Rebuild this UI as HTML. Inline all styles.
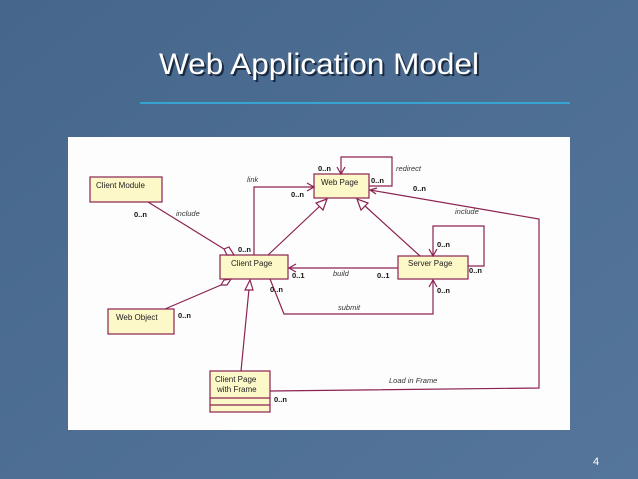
<!DOCTYPE html>
<html><head><meta charset="utf-8"><style>
html,body{margin:0;padding:0;width:638px;height:479px;overflow:hidden;background:#4d6d92}
svg{display:block}
text{font-family:"Liberation Sans",sans-serif}
</style></head><body>
<svg width="638" height="479" viewBox="0 0 638 479" xmlns="http://www.w3.org/2000/svg">
<defs>
<linearGradient id="bg" x1="0" y1="0" x2="1" y2="1">
<stop offset="0" stop-color="#46668c"/><stop offset="1" stop-color="#55769a"/>
</linearGradient>
</defs>
<rect width="638" height="479" fill="url(#bg)"/>
<text x="161" y="76" font-family="DejaVu Sans,sans-serif" font-size="30" fill="#1a2a40" textLength="320" lengthAdjust="spacingAndGlyphs">Web Application Model</text>
<text x="159" y="74" font-family="DejaVu Sans,sans-serif" font-size="30" fill="#ffffff" textLength="320" lengthAdjust="spacingAndGlyphs">Web Application Model</text>
<line x1="140" y1="103" x2="570" y2="103" stroke="#2fb6e8" stroke-width="1.5"/>
<rect x="68" y="137" width="502" height="293" fill="#fdfdfd"/>
<text x="593" y="465" font-size="11" fill="#fff">4</text>

<g fill="#fdf8c8" stroke="#8b2252" stroke-width="1.2">
<rect x="90" y="177" width="72" height="25"/>
<rect x="220" y="255" width="68" height="24"/>
<rect x="314" y="174" width="55" height="24"/>
<rect x="398" y="256" width="70" height="23"/>
<rect x="108" y="309" width="66" height="25"/>
<rect x="210" y="371" width="60" height="41"/>
<line x1="210" y1="398" x2="270" y2="398"/>
<line x1="210" y1="405" x2="270" y2="405"/>
</g>
<g font-size="8" fill="#222">
<text x="96" y="188">Client Module</text>
<text x="231" y="266">Client Page</text>
<text x="321" y="185">Web Page</text>
<text x="408" y="266">Server Page</text>
<text x="116" y="320">Web Object</text>
<text x="215" y="382">Client Page</text>
<text x="217" y="392">with Frame</text>
</g>

<g fill="none" stroke="#8b2252" stroke-width="1.2">
<!-- web page self loop -->
<polyline points="341,174 341,157 392,157 392,186 369,186"/>
<polyline points="337,167 341,174 345,167"/>
<!-- link -->
<polyline points="254,255 254,187 314,187"/>
<polyline points="307,183 314,187 307,191"/>
<!-- generalizations -->
<line x1="268" y1="255" x2="320" y2="206"/>
<polygon points="327,199 316,203 323,210" fill="#fff"/>
<line x1="420" y1="256" x2="365" y2="206"/>
<polygon points="357,199 361,210 368,203" fill="#fff"/>
<line x1="241" y1="371" x2="249" y2="289"/>
<polygon points="250,280 245,290 253,290" fill="#fff"/>
<!-- include client module -->
<line x1="148" y1="202" x2="224" y2="249"/>
<polygon points="224,249 229,247 234,255 227,255" fill="#fff"/>
<!-- web object -->
<line x1="165" y1="309" x2="221" y2="285"/>
<polygon points="221,285 224,280 231,279 227,285" fill="#fff"/>
<!-- build -->
<line x1="398" y1="268" x2="289" y2="268"/>
<polyline points="296,264 289,268 296,272"/>
<!-- submit -->
<polyline points="270,279 284,314 433,314 433,280"/>
<polyline points="429,287 433,280 437,287"/>
<!-- server page self loop -->
<polyline points="433,256 433,226 484,226 484,266 468,266"/>
<polyline points="429,249 433,256 437,249"/>
<!-- include / load in frame -->
<polyline points="270,391 539,388 539,219 370,190"/>
<polyline points="377,188 370,190 376,194"/>
</g>

<g font-size="7.5" fill="#111" font-weight="bold">
<text x="318" y="171">0..n</text>
<text x="371" y="183">0..n</text>
<text x="291" y="197">0..n</text>
<text x="413" y="191">0..n</text>
<text x="134" y="217">0..n</text>
<text x="238" y="252">0..n</text>
<text x="292" y="278">0..1</text>
<text x="377" y="278">0..1</text>
<text x="270" y="292">0..n</text>
<text x="437" y="247">0..n</text>
<text x="469" y="273">0..n</text>
<text x="437" y="293">0..n</text>
<text x="178" y="318">0..n</text>
<text x="274" y="402">0..n</text>
</g>
<g font-size="7.5" fill="#333" font-style="italic">
<text x="247" y="182">link</text>
<text x="396" y="171">redirect</text>
<text x="176" y="216">include</text>
<text x="455" y="214">include</text>
<text x="333" y="276">build</text>
<text x="338" y="310">submit</text>
<text x="389" y="383">Load in Frame</text>
</g>
</svg>
</body></html>
